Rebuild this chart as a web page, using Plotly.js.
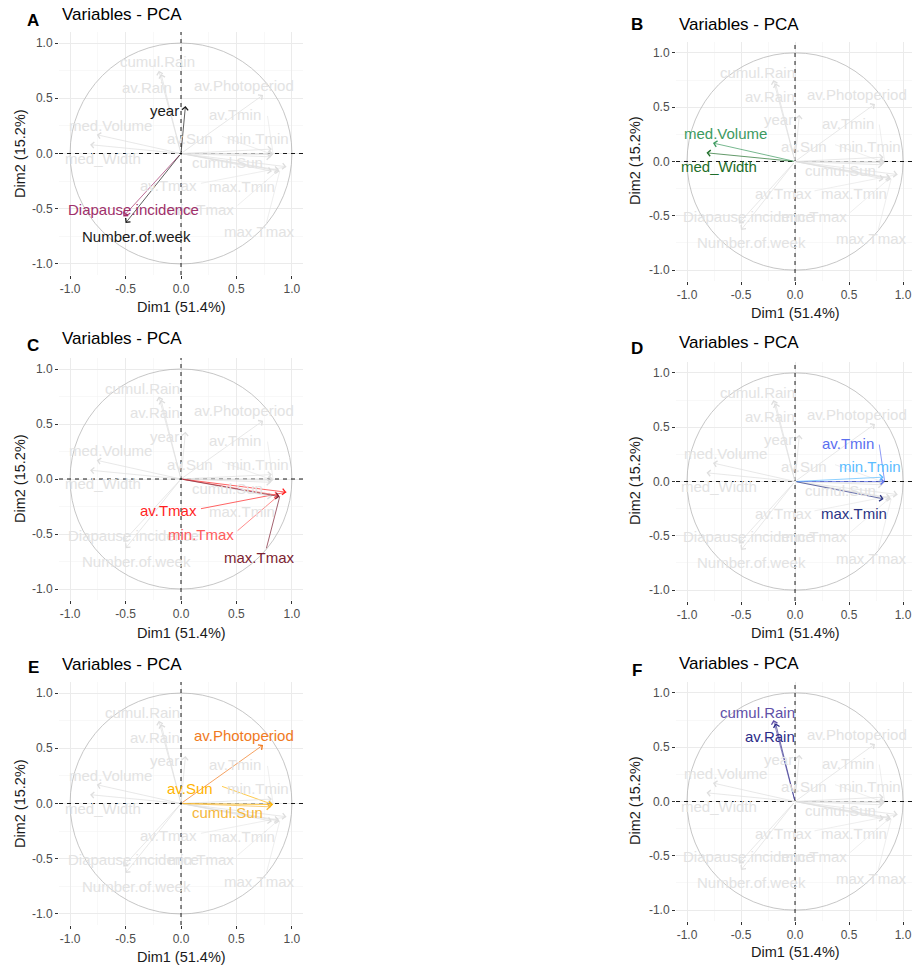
<!DOCTYPE html>
<html>
<head>
<meta charset="utf-8">
<script src="https://cdn.plot.ly/plotly-3.0.1.min.js"></script>
<style>html,body{margin:0;padding:0;background:#fff;}#chart{width:912px;height:968px;}</style>
</head>
<body>
<div id="chart"></div>
<script>
// ---- data (PCA variable coordinates) ----
const variables = ['year','Diapause.incidence','Number.of.week','cumul.Rain','av.Rain','av.Photoperiod','av.Sun','cumul.Sun','med.Volume','med_Width','av.Tmin','min.Tmin','max.Tmin','av.Tmax','min.Tmax','max.Tmax'];
const dim1 = [0.04,-0.52,-0.50,-0.20,-0.18,0.74,0.83,0.81,-0.76,-0.82,0.83,0.82,0.82,0.95,0.88,0.89];
const dim2 = [0.43,-0.57,-0.63,0.75,0.72,0.53,-0.01,-0.03,0.17,0.08,0.00,0.04,-0.16,-0.12,-0.15,-0.16];
const dimLabels = ['Dim1 (51.4%)','Dim2 (15.2%)'];
const tickVals = [-1,-0.5,0,0.5,1];
const tickText = ['-1.0','-0.5','0.0','0.5','1.0'];
const panelLetters = ['A','B','C','D','E','F'];
const panelTitle = 'Variables - PCA';
const groupA = ['year','Diapause.incidence','Number.of.week'];
const groupB = ['med.Volume','med_Width'];
const groupC = ['av.Tmax','min.Tmax','max.Tmax'];
const groupD = ['av.Tmin','min.Tmin','max.Tmin'];
const groupE = ['av.Photoperiod','av.Sun','cumul.Sun'];
const groupF = ['cumul.Rain','av.Rain'];

// ---- styling / label placement (not data) ----
const labelPos = {
  'year':[-0.15,0.39],'Diapause.incidence':[-0.43,-0.51],'Number.of.week':[-0.40,-0.75],
  'cumul.Rain':[-0.35,0.82],'av.Rain':[-0.23,0.60],'av.Photoperiod':[0.57,0.62],
  'av.Sun':[0.08,0.135],'cumul.Sun':[0.42,-0.085],'med.Volume':[-0.64,0.255],
  'med_Width':[-0.70,-0.045],'av.Tmin':[0.49,0.35],'min.Tmin':[0.69,0.135],
  'max.Tmin':[0.55,-0.295],'av.Tmax':[-0.11,-0.29],'min.Tmax':[0.18,-0.505],'max.Tmax':[0.71,-0.71]
};
const labelPosA = {'cumul.Rain':[-0.21,0.83],'av.Rain':[-0.31,0.60]};
const leaderStart = {'av.Sun':[0.37,0.155],'av.Tmax':[0.18,-0.27],'min.Tmax':[0.51,-0.47],'max.Tmax':[0.77,-0.63],'av.Tmin':[0.78,0.34]};
const colors = {
  'year':'#1a1a1a','Diapause.incidence':'#a0306a','Number.of.week':'#1a1a1a',
  'med.Volume':'#3c9a5f','med_Width':'#1f6e2a',
  'av.Tmax':'#ff1f1f','min.Tmax':'#ff5c5c','max.Tmax':'#7d1f32',
  'av.Tmin':'#5b6ff0','min.Tmin':'#5bbcff','max.Tmin':'#2b3585',
  'av.Photoperiod':'#f07a1e','av.Sun':'#ffb400','cumul.Sun':'#f5b63a',
  'cumul.Rain':'#6050a8','av.Rain':'#2c2c88'
};
const W = 912, H = 968;
const panels = [
  {xd:[59,303], yd:[32,275],  xr:[-1.1,1.1],   group:groupA, title:[60,15], letter:[33,20], xt:[181,307], yt:[20,154]},
  {xd:[676,912],yd:[42,281],  xr:[-1.102,1.083],group:groupB, title:[677,25], letter:[637,24], xt:[795,313], yt:[635,161]},
  {xd:[59,303], yd:[358,600], xr:[-1.1,1.1],   group:groupC, title:[60,338], letter:[33,345], xt:[181,633], yt:[20,479]},
  {xd:[676,912],yd:[362,601], xr:[-1.102,1.083],group:groupD, title:[677,343], letter:[637,348], xt:[795,633], yt:[635,481]},
  {xd:[59,303], yd:[682,925], xr:[-1.1,1.1],   group:groupE, title:[60,664], letter:[33,667], xt:[181,957], yt:[20,804]},
  {xd:[676,912],yd:[682,921], xr:[-1.102,1.083],group:groupF, title:[677,663], letter:[637,670], xt:[795,952], yt:[635,801]}
];
const FONT = 'Liberation Sans, Arial, sans-serif';
const GREY_TXT = '#e3e3e3', GREY_ARROW = '#dedede';

const px = x => x / W;
const py = y => 1 - y / H;

const layout = {
  width: W, height: H, margin:{l:0,r:0,t:0,b:0},
  paper_bgcolor:'#fff', plot_bgcolor:'#fff', showlegend:false,
  font:{family:FONT}, annotations:[], shapes:[]
};
const traces = [];

panels.forEach((p, i) => {
  const n = i === 0 ? '' : String(i + 1);
  const xa = 'x' + n, ya = 'y' + n;
  const axBase = {
    tickvals: tickVals, ticktext: tickText, ticks:'outside', ticklen:3, tickwidth:1, tickcolor:'#333',
    tickfont:{size:12, color:'#4d4d4d', family:FONT}, showline:false, zeroline:false,
    showgrid:true, gridcolor:'#ebebeb', gridwidth:1, fixedrange:true,
    minor:{tickvals:[-0.75,-0.25,0.25,0.75], showgrid:true, gridcolor:'#f3f3f3', gridwidth:0.6, ticks:''}
  };
  layout['xaxis' + n] = Object.assign({}, axBase, {domain:[px(p.xd[0]), px(p.xd[1])], range:p.xr, anchor:ya});
  layout['yaxis' + n] = Object.assign({}, axBase, {domain:[py(p.yd[1]), py(p.yd[0])], range:[-1.1,1.1], anchor:xa});

  traces.push({type:'scatter', mode:'markers', x:dim1, y:dim2, xaxis:xa, yaxis:ya,
    marker:{size:1, opacity:0}, hoverinfo:'skip', showlegend:false});

  layout.shapes.push({type:'circle', xref:xa, yref:ya, x0:-1, x1:1, y0:-1, y1:1,
    line:{color:'#b8b8b8', width:0.8}, layer:'above'});

  const order = variables.filter(v => !p.group.includes(v)).concat(p.group);
  order.forEach(v => {
    const k = variables.indexOf(v);
    const hi = p.group.includes(v);
    if (leaderStart[v]) {
      layout.shapes.push({type:'line', xref:xa, yref:ya, x0:leaderStart[v][0], y0:leaderStart[v][1],
        x1:dim1[k], y1:dim2[k], line:{color: hi ? colors[v] : '#e6e6e6', width:0.7}, layer:'above'});
    }
  });

  layout.shapes.push({type:'line', xref:xa + ' domain', yref:ya, x0:0, x1:1, y0:0, y1:0,
    line:{color:'#000', width:0.9, dash:'4px,4px'}, layer:'above'});
  layout.shapes.push({type:'line', xref:xa, yref:ya + ' domain', x0:0, x1:0, y0:0, y1:1,
    line:{color:'#000', width:0.9, dash:'4px,4px'}, layer:'above'});

  order.forEach(v => {
    const k = variables.indexOf(v);
    const hi = p.group.includes(v);
    layout.annotations.push({xref:xa, yref:ya, axref:xa, ayref:ya, x:dim1[k], y:dim2[k], ax:0, ay:0,
      text:'', showarrow:true, arrowhead:4, arrowsize:1.7, arrowwidth:0.7, arrowcolor: hi ? colors[v] : GREY_ARROW});
  });
  order.forEach(v => {
    const hi = p.group.includes(v);
    const lp = (i === 0 && labelPosA[v]) ? labelPosA[v] : labelPos[v];
    layout.annotations.push({xref:xa, yref:ya, x:lp[0], y:lp[1], text:v, showarrow:false,
      xanchor:'center', yanchor:'middle', font:{size:15, family:FONT, color: hi ? colors[v] : GREY_TXT}});
  });

  layout.annotations.push({xref:'paper', yref:'paper', x:px(p.title[0]), y:py(p.title[1]), text:panelTitle,
    showarrow:false, xanchor:'left', yanchor:'middle', font:{size:17, color:'#000', family:FONT}});
  layout.annotations.push({xref:'paper', yref:'paper', x:px(p.letter[0]), y:py(p.letter[1]), text:'<b>' + panelLetters[i] + '</b>',
    showarrow:false, xanchor:'center', yanchor:'middle', font:{size:17, color:'#000', family:FONT}});
  layout.annotations.push({xref:'paper', yref:'paper', x:px(p.xt[0]), y:py(p.xt[1]), text:dimLabels[0],
    showarrow:false, xanchor:'center', yanchor:'middle', font:{size:14.5, color:'#1a1a1a', family:FONT}});
  layout.annotations.push({xref:'paper', yref:'paper', x:px(p.yt[0]), y:py(p.yt[1]), text:dimLabels[1], textangle:-90,
    showarrow:false, xanchor:'center', yanchor:'middle', font:{size:14.5, color:'#1a1a1a', family:FONT}});
});

Plotly.newPlot('chart', traces, layout, {staticPlot:true, displayModeBar:false});
</script>
</body>
</html>
